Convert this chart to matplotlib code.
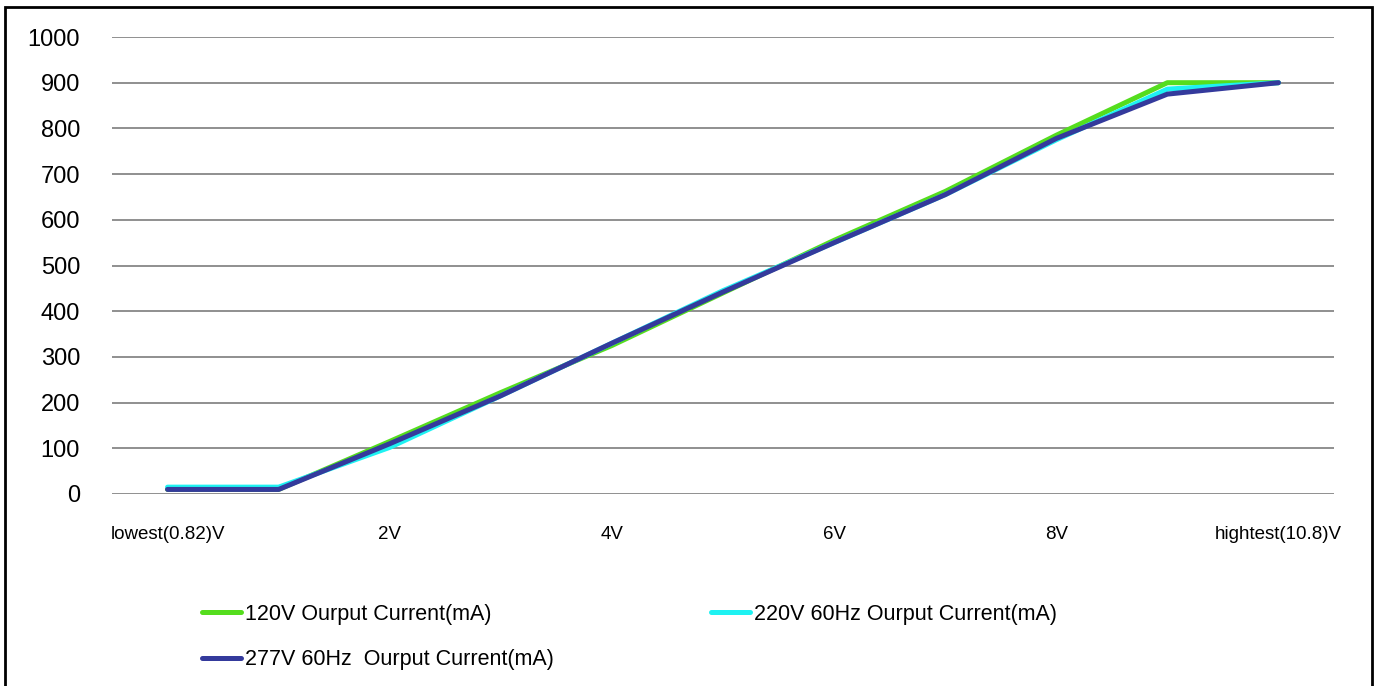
import matplotlib

matplotlib.use("Agg")
import matplotlib.pyplot as plt
from matplotlib import font_manager
from matplotlib.patches import Rectangle

CATEGORIES = ["lowest(0.82)V", "1V", "2V", "3V", "4V", "5V", "6V", "7V", "8V", "9V", "hightest(10.8)V"]
SHOWN_LABELS = ["lowest(0.82)V", "", "2V", "", "4V", "", "6V", "", "8V", "", "hightest(10.8)V"]

CURRENT_120V = [10, 10, 115, 222, 325, 440, 555, 662, 785, 900, 900]
CURRENT_220V = [15, 15, 102, 215, 330, 445, 550, 655, 775, 886, 900]
CURRENT_277V = [10, 10, 110, 215, 330, 442, 550, 655, 778, 875, 900]

Y_TICKS = [0, 100, 200, 300, 400, 500, 600, 700, 800, 900, 1000]

SERIES = [
    ("120V Ourput Current(mA)", CURRENT_120V, "#55DD1E"),
    ("220V 60Hz Ourput Current(mA)", CURRENT_220V, "#1EF2F2"),
    ("277V 60Hz  Ourput Current(mA)", CURRENT_277V, "#343A9C"),
]

W, H = 1377, 686

plt.rcParams["font.family"] = ["Liberation Sans", "DejaVu Sans"]
installed = {f.name for f in font_manager.fontManager.ttflist}
if "Liberation Sans Narrow" in installed:
    legend_font = {"family": ["Liberation Sans Narrow", "DejaVu Sans"], "size": 17}
    legend_colspace = 7.2
    legend_labelspace = 0.86
else:
    legend_font = {"family": ["Liberation Sans", "DejaVu Sans"], "size": 15.5}
    legend_colspace = 7.3
    legend_labelspace = 1.12

fig = plt.figure(figsize=(W / 100, H / 100), dpi=100)
ax = fig.add_axes([112 / W, 1 - 494 / H, (1334 - 112) / W, (494 - 37) / H])

x = list(range(len(CATEGORIES)))
handles = {}
for label, values, color in SERIES:
    (line,) = ax.plot(x, values, color=color, linewidth=3.6, solid_capstyle="round",
                      solid_joinstyle="round", label=label)
    handles[label] = line

ax.set_xlim(-0.5, len(CATEGORIES) - 0.5)
ax.set_ylim(0, 1000)
ax.set_yticks(Y_TICKS)
ax.set_xticks(x)
ax.set_xticklabels(SHOWN_LABELS)
ax.yaxis.grid(True, color="#8f8f8f", linewidth=1.4)
ax.set_axisbelow(True)
for side in ("top", "right", "left", "bottom"):
    ax.spines[side].set_visible(False)
ax.tick_params(axis="y", length=0, pad=23, labelsize=17)
ax.tick_params(axis="x", length=0, pad=23, labelsize=13.5)

order = [SERIES[0][0], SERIES[2][0], SERIES[1][0]]
fig.legend(
    [handles[k] for k in order],
    order,
    loc="upper left",
    bbox_to_anchor=(202 / W, 1 - 604 / H),
    ncol=2,
    frameon=False,
    prop=legend_font,
    handlelength=1.8,
    handletextpad=0.2,
    columnspacing=legend_colspace,
    labelspacing=legend_labelspace,
    borderpad=0,
    borderaxespad=0,
)

fig.patches.append(Rectangle((5 / W, -0.1), (1372 - 5) / W, 1.1 - 7 / H,
                             transform=fig.transFigure, fill=False,
                             edgecolor="black", linewidth=2))

fig.savefig("out.png", dpi=100)
